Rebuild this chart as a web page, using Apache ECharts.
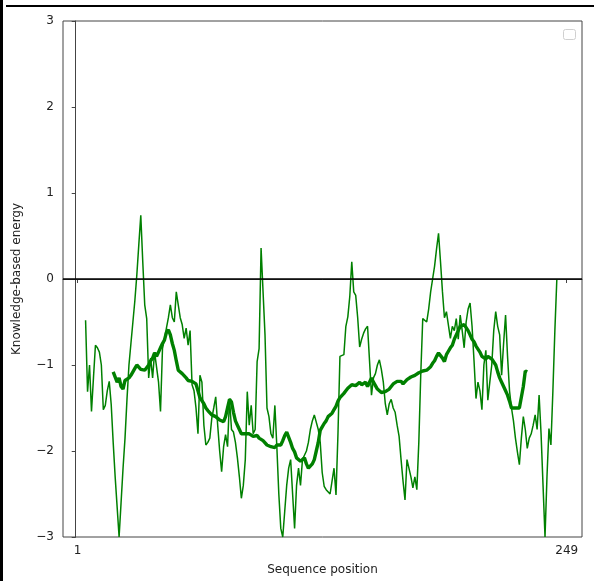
<!DOCTYPE html>
<html><head><meta charset="utf-8">
<script src="https://cdn.jsdelivr.net/npm/echarts@6/dist/echarts.min.js"></script>
<style>html,body{margin:0;padding:0;background:#fff}#c{width:594px;height:581px}</style>
</head><body><div id="c"></div>
<script>
// Thin line (window 10): energies for residues starting at thinStart
const thinStart = 5;
const thinEnergy = [
 -0.48,-1.31,-1.0,-1.54,-1.15,-0.77,-0.8,-0.85,-1.0,-1.52,
 -1.47,-1.3,-1.19,-1.46,-1.9,-2.3,-2.65,-3.0,-2.6,-2.2,
 -1.85,-1.4,-1.0,-0.75,-0.5,-0.25,0.05,0.4,0.74,0.2,
 -0.3,-0.46,-1.15,-0.92,-1.15,-0.85,-0.87,-1.2,-1.54,-0.81,
 -0.7,-0.57,-0.45,-0.3,-0.45,-0.5,-0.15,-0.3,-0.45,-0.53,
 -0.69,-0.57,-0.77,-0.6,-1.23,-1.3,-1.5,-1.8,-1.12,-1.2,
 -1.7,-1.93,-1.9,-1.85,-1.62,-1.5,-1.37,-1.7,-2.0,-2.24,
 -1.95,-1.81,-1.95,-1.39,-1.75,-1.78,-1.9,-2.08,-2.3,-2.55,
 -2.4,-2.1,-1.31,-1.7,-1.47,-1.8,-1.75,-0.96,-0.81,0.36,
 0.36,-0.65,-1.5,-1.6,-1.8,-1.85,-1.47,-1.95,-2.5,-2.9,
 -3.0,-2.7,-2.4,-2.2,-2.1,-2.5,-2.9,-2.4,-2.2,-2.4,
 -2.1,-2.05,-2.0,-1.9,-1.75,-1.65,-1.58,-1.56,-1.75,-1.9,
 -2.25,-2.41,-2.45,-2.47,-2.5,-2.51,-2.2,-2.51,-1.8,-0.9,
 -0.9,-0.88,-0.55,-0.44,-0.2,0.2,-0.15,-0.19,-0.45,-0.79,
 -0.7,-0.63,-0.58,-0.55,-0.53,-1.35,-1.15,-1.1,-1.0,-0.94,
 -1.05,-1.2,-1.45,-1.58,-1.45,-1.4,-1.5,-1.55,-1.7,-1.83,
 -2.1,-2.35,-2.57,-2.1,-2.12,-2.3,-2.43,-2.3,-2.45,-1.9,
 -1.1,-0.46,-0.45,-0.5,-0.35,-0.15,0.0,0.15,0.35,0.53,
 0.2,-0.15,-0.45,-0.38,-0.4,-0.69,-0.55,-0.6,-0.46,-0.7,
 -0.42,-0.6,-0.8,-0.5,-0.35,-0.28,-0.55,-0.95,-1.39,-1.2,
 -1.3,-1.52,-1.0,-0.83,-1.41,-1.2,-1.0,-0.6,-0.38,-0.55,
 -0.65,-1.12,-0.75,-0.42,-0.9,-1.3,-1.5,-1.65,-1.85,-2.01,
 -2.16,-1.85,-1.6,-1.75,-1.97,-1.85,-1.8,-1.7,-1.58,-1.75,
 -1.35,-1.8,-2.4,-3.0,-2.3,-1.74,-1.93,-1.3,-0.6,0.0
];
// Thick line (window 40)
const thickStart = 19;
const thickEnergy = [
 -1.08,-1.1,-1.2,-1.15,-1.25,-1.28,-1.18,-1.2,-1.15,-1.12,
 -1.1,-1.04,-1.0,-1.02,-1.05,-1.03,-1.06,-1.04,-1.0,-0.95,
 -0.92,-0.86,-0.9,-0.85,-0.8,-0.75,-0.71,-0.62,-0.59,-0.65,
 -0.75,-0.83,-0.95,-1.06,-1.08,-1.1,-1.12,-1.15,-1.18,-1.2,
 -1.19,-1.19,-1.22,-1.3,-1.38,-1.39,-1.45,-1.5,-1.53,-1.55,
 -1.58,-1.57,-1.6,-1.62,-1.64,-1.65,-1.66,-1.6,-1.5,-1.4,
 -1.43,-1.55,-1.65,-1.7,-1.75,-1.8,-1.81,-1.8,-1.78,-1.8,
 -1.82,-1.83,-1.81,-1.82,-1.85,-1.85,-1.88,-1.9,-1.93,-1.95,
 -1.95,-1.94,-1.96,-1.93,-1.94,-1.93,-1.88,-1.82,-1.78,-1.8,
 -1.9,-1.97,-2.01,-2.08,-2.1,-2.12,-2.1,-2.08,-2.15,-2.2,
 -2.18,-2.15,-2.1,-2.0,-1.9,-1.76,-1.72,-1.68,-1.65,-1.6,
 -1.58,-1.56,-1.52,-1.48,-1.42,-1.38,-1.37,-1.33,-1.3,-1.27,
 -1.25,-1.23,-1.22,-1.24,-1.22,-1.2,-1.23,-1.22,-1.2,-1.25,
 -1.2,-1.15,-1.2,-1.22,-1.28,-1.3,-1.32,-1.3,-1.31,-1.3,
 -1.28,-1.25,-1.22,-1.2,-1.19,-1.2,-1.19,-1.22,-1.2,-1.17,
 -1.15,-1.14,-1.15,-1.12,-1.1,-1.09,-1.08,-1.07,-1.05,-1.06,
 -1.05,-1.02,-0.98,-0.95,-0.9,-0.86,-0.88,-0.92,-0.96,-0.88,
 -0.84,-0.8,-0.77,-0.7,-0.65,-0.6,-0.55,-0.53,-0.53,-0.55,
 -0.6,-0.65,-0.7,-0.73,-0.78,-0.8,-0.85,-0.9,-0.92,-0.93,
 -0.9,-0.92,-0.93,-0.95,-1.0,-1.08,-1.15,-1.2,-1.25,-1.3,
 -1.35,-1.42,-1.5,-1.52,-1.5,-1.52,-1.5,-1.48,-1.25,-1.07,
 -1.08
];
const xTicks = [1, 249];
const yTicks = [-3, -2, -1, 0, 1, 2, 3];

const thinData = thinEnergy.map((v, i) => [thinStart + i, v]);
const thickData = thickEnergy.map((v, i) => [thickStart + i, v]);
const fmt = v => v < 0 ? '\u2212' + Math.abs(v) : String(v);
const FONT = 'DejaVu Sans';

const chart = echarts.init(document.getElementById('c'), null, {renderer: 'canvas'});
chart.setOption({
  animation: false,
  backgroundColor: '#fff',
  grid: {left: 63, top: 21, right: 12, bottom: 44, show: true, borderColor: '#444', borderWidth: 1, backgroundColor: 'transparent'},
  xAxis: {
    type: 'value', min: -6.45, max: 256.76,
    name: 'Sequence position', nameLocation: 'middle', nameGap: 27,
    nameTextStyle: {fontFamily: FONT, fontSize: 12, color: '#222'},
    axisLine: {show: true, lineStyle: {color: '#444', width: 1}},
    axisTick: {show: true, length: 4, lineStyle: {color: '#444'}, customValues: xTicks},
    axisLabel: {fontFamily: FONT, fontSize: 12, color: '#222', margin: 8, customValues: xTicks},
    splitLine: {show: false}
  },
  yAxis: {
    type: 'value', min: -3, max: 3, interval: 1,
    name: 'Knowledge-based energy', nameLocation: 'middle', nameGap: 40, nameRotate: 90,
    nameTextStyle: {fontFamily: FONT, fontSize: 12, color: '#222'},
    axisLine: {show: true, lineStyle: {color: '#444', width: 1}},
    axisTick: {show: true, length: 4, lineStyle: {color: '#444'}},
    axisLabel: {fontFamily: FONT, fontSize: 12, color: '#222', margin: 9, formatter: fmt, customValues: yTicks},
    splitLine: {show: false}
  },
  series: [
    {
      type: 'line', data: thinData, showSymbol: false, symbol: 'none',
      lineStyle: {color: '#008000', width: 1.5}, z: 2,
      markLine: {
        silent: true, symbol: 'none', label: {show: false},
        lineStyle: {color: '#000', width: 1.5, type: 'solid'},
        data: [{yAxis: 0}]
      }
    },
    {
      type: 'line', data: thickData, showSymbol: false, symbol: 'none',
      lineStyle: {color: '#008000', width: 3.4}, z: 3
    }
  ],
  graphic: [
    {type: 'rect', shape: {x: 0, y: 0, width: 3, height: 581}, style: {fill: '#000'}},
    {type: 'rect', shape: {x: 6, y: 5, width: 588, height: 2}, style: {fill: '#000'}},
    {type: 'rect', shape: {x: 563.5, y: 29.5, width: 12, height: 10, r: 2}, style: {fill: '#fff', stroke: '#d0d0d0', lineWidth: 1}}
  ]
});
</script></body></html>
